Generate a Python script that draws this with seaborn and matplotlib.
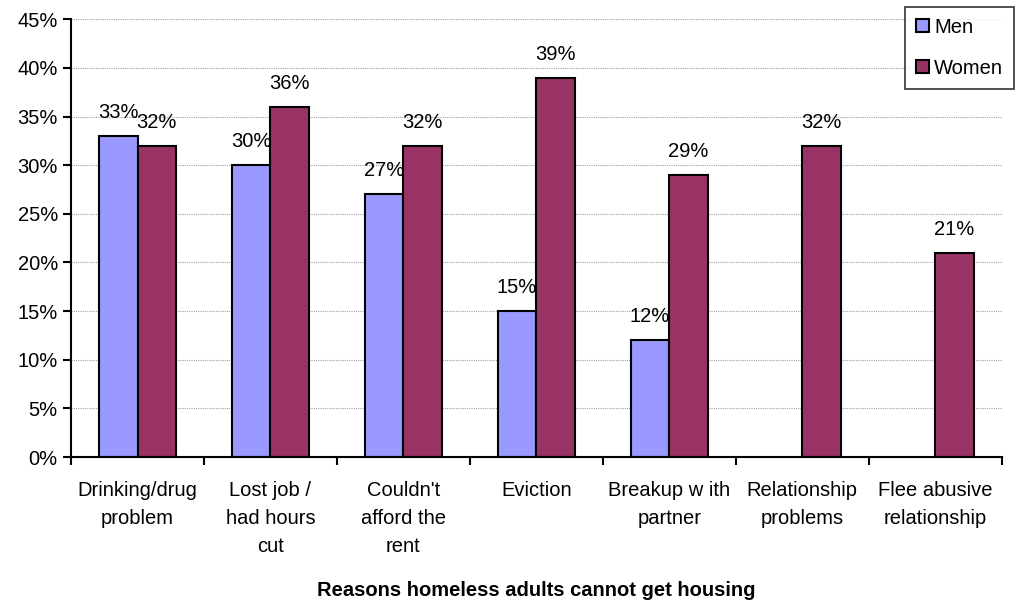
import matplotlib
matplotlib.use("Agg")
import matplotlib.pyplot as plt
import numpy as np
import pandas as pd
import seaborn as sns
from matplotlib.ticker import MultipleLocator, PercentFormatter

reasons = [
    "Drinking/drug\nproblem",
    "Lost job /\nhad hours\ncut",
    "Couldn't\nafford the\nrent",
    "Eviction",
    "Breakup w ith\npartner",
    "Relationship\nproblems",
    "Flee abusive\nrelationship",
]
men = [33, 30, 27, 15, 12, np.nan, np.nan]
women = [32, 36, 32, 39, 29, 32, 21]
groups = ["Men", "Women"]
colors = ["#9999FF", "#993366"]

df = pd.DataFrame({
    "Reason": reasons * 2,
    "Group": ["Men"] * len(reasons) + ["Women"] * len(reasons),
    "Pct": men + women,
})

sns.set_style("white")
plt.rcParams["font.family"] = ["Liberation Sans", "DejaVu Sans"]
plt.rcParams["text.color"] = "black"
plt.rcParams["xtick.color"] = "black"
plt.rcParams["ytick.color"] = "black"
plt.rcParams["axes.labelcolor"] = "black"

fs = 14.5

fig = plt.figure(figsize=(10.16, 6.01), dpi=100)
ax = fig.add_axes([0.0699, 0.2396, 0.9161, 0.7284])

sns.barplot(data=df, x="Reason", y="Pct", hue="Group", hue_order=groups,
            palette=colors, width=0.58, edgecolor="black", linewidth=1.5,
            saturation=1, ax=ax)

for cont in ax.containers:
    ax.bar_label(cont, fmt="%d%%", padding=10, fontsize=fs)

ax.set_ylim(0, 45)
ax.set_xlim(-0.5, len(reasons) - 0.5)
ax.yaxis.set_major_locator(MultipleLocator(5))
ax.yaxis.set_major_formatter(PercentFormatter(decimals=0))
ax.grid(axis="y", color="#A0A0A0", linestyle=(0, (1, 1)), linewidth=0.8)
ax.set_axisbelow(True)

for s in ["top", "right"]:
    ax.spines[s].set_visible(False)
for s in ["left", "bottom"]:
    ax.spines[s].set_color("black")
    ax.spines[s].set_linewidth(1.5)

ax.set_xticks(np.arange(len(reasons) + 1) - 0.5, minor=True)
ax.tick_params(axis="x", which="major", length=0, pad=17, labelsize=fs)
ax.tick_params(axis="x", which="minor", length=6, width=1.5, direction="out", bottom=True)
ax.tick_params(axis="y", length=6, width=1.5, direction="out", left=True, labelsize=fs)
for lbl in ax.get_xticklabels():
    lbl.set_linespacing(1.62)

ax.set_ylabel("")
ax.set_xlabel("Reasons homeless adults cannot get housing", fontsize=fs,
              fontweight="bold", labelpad=18)

leg = ax.legend(title=None, loc="upper right", bbox_to_anchor=(0.998, 0.989),
                bbox_transform=fig.transFigure, frameon=True, fancybox=False,
                fontsize=fs, handlelength=0.65, handleheight=0.65,
                borderpad=0.55, labelspacing=1.1, handletextpad=0.25,
                borderaxespad=0)
leg.get_frame().set_edgecolor("black")
leg.get_frame().set_linewidth(1.2)

fig.savefig("out.png", dpi=100)
